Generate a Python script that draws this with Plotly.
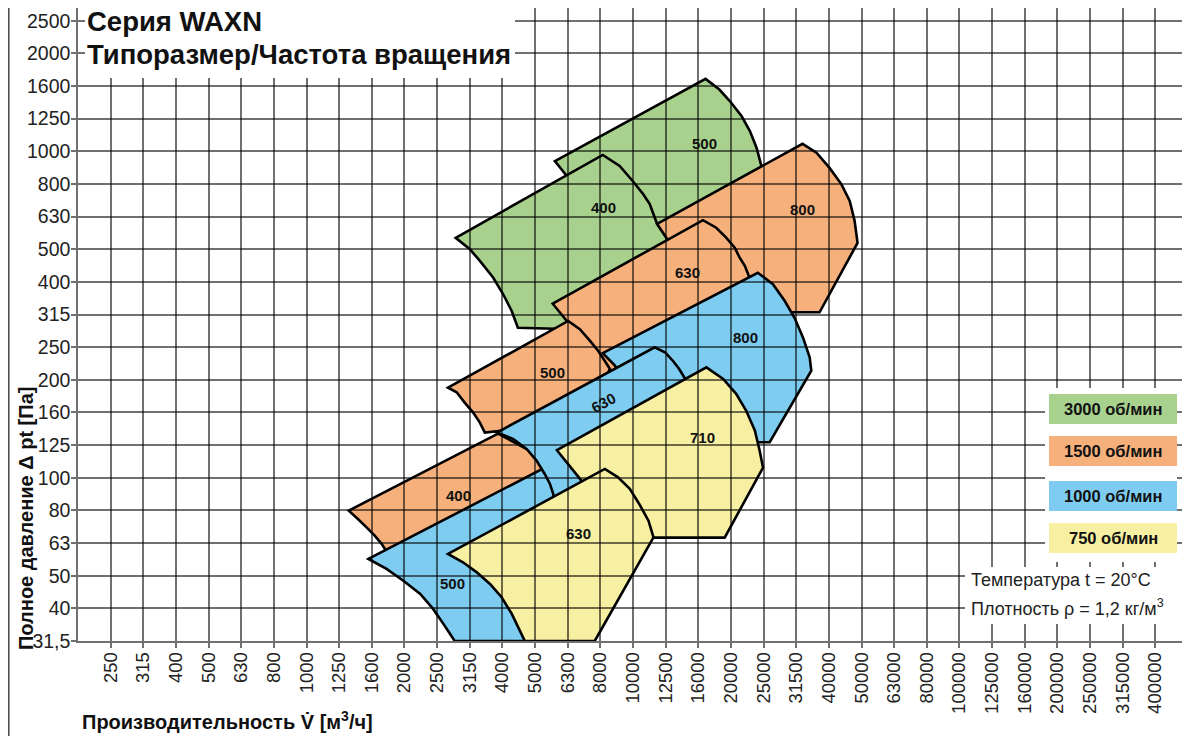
import math
import plotly.graph_objects as go

# R10 tick labels of the selection chart
x_tick_labels = ["250", "315", "400", "500", "630", "800", "1000", "1250", "1600",
                 "2000", "2500", "3150", "4000", "5000", "6300", "8000", "10000",
                 "12500", "16000", "20000", "25000", "31500", "40000", "50000",
                 "63000", "80000", "100000", "125000", "160000", "200000",
                 "250000", "315000", "400000"]
y_tick_labels = ["31,5", "40", "50", "63", "80", "100", "125", "160", "200", "250",
                 "315", "400", "500", "630", "800", "1000", "1250", "1600", "2000", "2500"]

# working ranges: outline points, flow q [m3/h], total pressure p [Pa]
q_3000_500 = [5740, 16600, 18300, 19700, 21400, 22700, 23800, 24700, 19000, 8870, 8160, 7080, 6240, 5740]
p_3000_500 = [930, 1660, 1540, 1420, 1277, 1149, 1020, 886, 511, 494, 576, 702, 837, 930]
q_3000_400 = [2850, 8040, 9060, 9930, 10700, 11200, 11500, 11800, 12600, 13400, 9730, 4420,
              4230, 3980, 3710, 3380, 3150, 2850]
p_3000_400 = [541, 971, 898, 808, 736, 687, 639, 597, 541, 476, 281, 287,
              323, 364, 409, 460, 499, 541]
q_1500_800 = [11800, 32900, 36300, 39800, 43300, 45900, 47500, 48500, 37100, 18300, 15900, 13800, 12600, 11800]
p_1500_800 = [597, 1050, 986, 886, 789, 702, 610, 522, 320, 320, 372, 453, 541, 597]
q_1500_630 = [5650, 16300, 17900, 19200, 20400, 21100, 21900, 22400, 24000, 18300, 7870, 7340, 6740, 6240, 5650]
p_1500_630 = [340, 613, 581, 542, 505, 471, 444, 419, 347, 198, 198, 227, 265, 301, 340]
q_1000_800 = [8040, 24000, 26700, 29000, 31100, 33000, 34600, 35000, 26100, 14900, 11200, 9590, 8750, 8040]
p_1000_800 = [240, 423, 390, 347, 308, 268, 233, 212, 128, 128, 160, 191, 220, 240]
q_1500_500 = [2700, 6300, 6840, 7340, 7780, 8160, 8450, 7340, 3500, 3380, 3220, 3040, 2870, 2700]
p_1500_500 = [188, 301, 284, 262, 244, 227, 215, 149, 137, 147, 158, 169, 182, 188]
q_1500_400 = [1340, 3840, 5160, 5740, 5940, 4640, 1860, 1730, 1690, 1610, 1520, 1430, 1340]
p_1500_400 = [79, 136, 116, 98, 85, 64, 55.5, 60.3, 62.5, 66.2, 70.2, 74.5, 79]
q_1000_500 = [1540, 5940, 6600, 5940, 2830, 2740, 2610, 2430, 2220, 1970, 1750, 1540]
p_1000_500 = [56.2, 113, 85, 31.5, 31.5, 33.1, 35.6, 39.5, 43.9, 48.2, 52.4, 56.2]
q_1000_630 = [3810, 11600, 12500, 13200, 13800, 14300, 14900, 11200, 6150, 5780, 5670, 5540,
              5340, 5040, 4700, 4280, 3810]
p_1000_630 = [137, 250, 241, 227, 214, 202, 171, 85, 68.6, 79, 88.9, 95.4,
              102.3, 112.4, 122, 130.9, 137]
q_750_710 = [5820, 16700, 18800, 20600, 22100, 23500, 24300, 24900, 19000, 9390, 8160, 6840, 5820]
p_750_710 = [121, 217, 200, 180, 160, 139, 121, 107, 65.3, 65.3, 79, 99, 121]
q_750_630 = [2700, 8160, 8960, 9730, 10400, 11100, 11500, 7600, 4640, 4480, 4230, 3940, 3630, 3300, 3000, 2700]
p_750_630 = [58.2, 106, 99.9, 92.1, 82.8, 73.6, 65.4, 31.5, 31.5, 33.9, 38.2, 42.9, 47.1, 51.2, 54.9, 58.2]

# size labels inside the ranges
label_sizes = ["500", "400", "800", "630", "800", "500", "630", "710", "400", "630", "500"]
label_q = [16500, 8100, 32900, 14640, 22000, 5650, 8100, 16200, 2915, 6790, 2795]
label_p = [1056, 668, 663, 423, 267, 209, 169, 132, 87.8, 67.2, 47.2]
label_angle = [0, 0, 0, 0, 0, 0, -28, 0, 0, 0, 0]

rpm_labels = ["3000 об/мин", "1500 об/мин", "1000 об/мин", "750 об/мин"]
rpm_colors = ["#a9d18e", "#f6b07c", "#7ecdf1", "#f7f0a2"]

# back to front, lower ranges overlap upper ones
fans = [
    (0, q_3000_500, p_3000_500),
    (0, q_3000_400, p_3000_400),
    (1, q_1500_800, p_1500_800),
    (1, q_1500_630, p_1500_630),
    (2, q_1000_800, p_1000_800),
    (1, q_1500_500, p_1500_500),
    (1, q_1500_400, p_1500_400),
    (2, q_1000_500, p_1000_500),
    (2, q_1000_630, p_1000_630),
    (3, q_750_710, p_750_710),
    (3, q_750_630, p_750_630),
]

FONT = "Liberation Sans, Arial, Helvetica, sans-serif"
GRID = "rgba(0,0,0,0.56)"

# page body adds 8px, so the figure is 8px smaller and positions are window pixels
OFF = 8
W, H = 1190 - OFF, 736 - OFF
L, R, T, B = 78 - OFF, 2, 0, 95
PW, PH = W - L - R, H - T - B


def fx(px):
    return (px - OFF - L) / PW


def fy(py):
    return (H - B - (py - OFF)) / PH


def svg_path(q, p):
    pts = [f"{a},{b}" for a, b in zip(q, p)]
    return "M" + " L".join(pts) + " Z"


fig = go.Figure()

for ci, q, p in fans:
    fig.add_shape(type="path", path=svg_path(q, p), xref="x", yref="y",
                  fillcolor=rpm_colors[ci],
                  line=dict(color="black", width=2.6), layer="below")

for s, q, p, ang in zip(label_sizes, label_q, label_p, label_angle):
    fig.add_annotation(x=math.log10(q), y=math.log10(p), xref="x", yref="y",
                       xanchor="center", yanchor="middle",
                       text=f"<b>{s}</b>", showarrow=False, textangle=ang,
                       font=dict(family=FONT, size=15, color="#111"))

# white boxes over the grid
for x0, x1, y0, y1 in [(85, 515, -5, 78), (1045, 1177, 388, 562), (965, 1187, 567, 624)]:
    fig.add_shape(type="rect", xref="paper", yref="paper", x0=fx(x0), x1=fx(x1),
                  y0=fy(y1), y1=fy(y0), fillcolor="white", line=dict(width=0),
                  layer="above")

# rpm legend
box_top = [394, 436, 481, 523]
for lab, col, yt in zip(rpm_labels, rpm_colors, box_top):
    fig.add_shape(type="rect", xref="paper", yref="paper", x0=fx(1049), x1=fx(1177),
                  y0=fy(yt + 30), y1=fy(yt), fillcolor=col, line=dict(width=0),
                  layer="above")
    fig.add_annotation(x=fx(1113), y=fy(yt + 15), xref="paper", yref="paper",
                       xanchor="center", yanchor="middle",
                       text=f"<b>{lab}</b>", showarrow=False,
                       font=dict(family=FONT, size=16.5, color="#111"))

# titles and notes
fig.add_annotation(x=fx(85), y=fy(21), xref="paper", yref="paper",
                   xanchor="left", yanchor="middle",
                   text="<b>Серия WAXN</b>", showarrow=False,
                   font=dict(family=FONT, size=27.5, color="#111"))
fig.add_annotation(x=fx(85), y=fy(55), xref="paper", yref="paper",
                   xanchor="left", yanchor="middle",
                   text="<b>Типоразмер/Частота вращения</b>", showarrow=False,
                   font=dict(family=FONT, size=27.5, color="#111"))
fig.add_annotation(x=fx(969), y=fy(580), xref="paper", yref="paper",
                   xanchor="left", yanchor="middle",
                   text="Температура t = 20°C", showarrow=False,
                   font=dict(family=FONT, size=18, color="#222"))
fig.add_annotation(x=fx(969), y=fy(607), xref="paper", yref="paper",
                   xanchor="left", yanchor="middle",
                   text="Плотность ρ = 1,2 кг/м<sup>3</sup>", showarrow=False,
                   font=dict(family=FONT, size=18, color="#222"))
fig.add_annotation(x=fx(80), y=fy(720), xref="paper", yref="paper",
                   xanchor="left", yanchor="middle",
                   text="<b>Производительность V\u0307 [м<sup>3</sup>/ч]</b>", showarrow=False,
                   font=dict(family=FONT, size=20, color="#111"))
fig.add_annotation(x=fx(26), y=fy(519), xref="paper", yref="paper",
                   xanchor="center", yanchor="middle", textangle=-90,
                   text="<b>Полное давление Δ pt [Па]</b>", showarrow=False,
                   font=dict(family=FONT, size=20, color="#111"))

# outer frame line on the left
fig.add_shape(type="line", xref="paper", yref="paper", x0=fx(OFF + 0.8), x1=fx(OFF + 0.8),
              y0=fy(740), y1=fy(0), line=dict(color="#444", width=1.5), layer="above")

fig.update_xaxes(type="log", range=[math.log10(250) - 0.1, math.log10(250) + 3.3],
                 tickvals=[250 * 10 ** (k / 10) for k in range(len(x_tick_labels))],
                 ticktext=x_tick_labels, tickangle=-90, ticklabelstandoff=-3,
                 showgrid=True, gridcolor=GRID, gridwidth=1.5,
                 showline=True, linecolor=GRID, linewidth=1.5,
                 ticks="outside", ticklen=5, tickcolor=GRID, tickwidth=1.5,
                 tickfont=dict(family=FONT, size=18.5, color="#222"), zeroline=False)
fig.update_yaxes(type="log",
                 range=[math.log10(31.5), math.log10(31.5) + PH / (PW / 3.4)],
                 tickvals=[31.5 * 10 ** (k / 10) for k in range(len(y_tick_labels))],
                 ticktext=y_tick_labels, ticklabelstandoff=-3,
                 showgrid=True, gridcolor=GRID, gridwidth=1.5,
                 showline=True, linecolor=GRID, linewidth=1.5, mirror=True,
                 ticks="outside", ticklen=5, tickcolor=GRID, tickwidth=1.5,
                 tickfont=dict(family=FONT, size=19.5, color="#222"), zeroline=False)

fig.update_layout(width=W, height=H, margin=dict(l=L, r=R, t=T, b=B),
                  plot_bgcolor="rgba(0,0,0,0)", paper_bgcolor="white", showlegend=False)

fig.write_html("out.html")
